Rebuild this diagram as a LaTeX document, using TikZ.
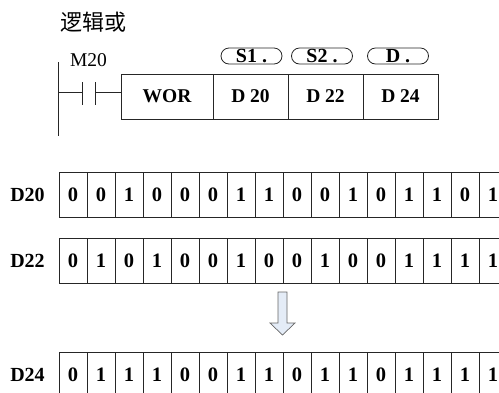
\documentclass[tikz,border=0pt]{standalone}
\usepackage{fontspec}
\setmainfont{Liberation Serif}
\newfontfamily\cjk{Noto Sans CJK SC}
\begin{document}
\begin{tikzpicture}[x=1pt,y=-1pt,
  lbl/.style={font=\fontsize{20}{20}\selectfont\bfseries, inner sep=0pt},
  cell/.style={draw=black!85, line width=0.8pt, minimum width=28pt, minimum height=45pt, inner sep=0pt, font=\fontsize{20.5}{20}\selectfont\bfseries},
  ibox/.style={draw=black!85, line width=0.8pt, minimum height=45pt, inner sep=0pt, font=\fontsize{19.5}{19}\selectfont\bfseries},
  oval/.style={draw=black!85, line width=0.8pt, rounded corners=8pt, minimum width=61pt, minimum height=16pt, inner sep=0pt, font=\fontsize{20}{19}\selectfont\bfseries},
  wire/.style={draw=black!85, line width=0.8pt}]
\useasboundingbox (0,0) rectangle (499,392);
\clip (0,0) rectangle (499,392);
% title
\node[inner sep=0pt, font=\cjk\fontsize{22}{22}\selectfont] (title) at (93.5,22) {逻辑或};
% ladder
\node[inner sep=0pt, font=\fontsize{19.5}{19}\selectfont] (m20) at (88.5,60) {M20};
\coordinate (railtop) at (58,62);
\coordinate (railbot) at (58,136);
\draw[wire] (railtop) -- (railbot);
\coordinate (c1t) at (82,82); \coordinate (c1b) at (82,105);
\coordinate (c2t) at (95,82); \coordinate (c2b) at (95,105);
\coordinate (railmid) at (58,92);
\coordinate (c1m) at (82,92);
\coordinate (c2m) at (95,92);
\draw[wire] (c1t) -- (c1b);
\draw[wire] (c2t) -- (c2b);
\draw[wire] (railmid) -- (c1m);
% instruction box
\node[ibox, minimum width=92pt] (wor) at (167,96.5) {WOR};
\node[ibox, minimum width=75pt] (s1) at (250.5,96.5) {D 20};
\node[ibox, minimum width=75pt] (s2) at (325.5,96.5) {D 22};
\node[ibox, minimum width=75pt] (dd) at (400.5,96.5) {D 24};
\draw[wire] (c2m) -- (wor.west |- c2m);
\node[oval] (o1) at (251.5,56) {S1 .};
\node[oval] (o2) at (322,56) {S2 .};
\node[oval] (o3) at (398,56) {D .};
% registers
\node[lbl] (l20) at (27.5,194.5) {D20};
\node[lbl] (l22) at (27.5,260.5) {D22};
\node[lbl] (l24) at (27.5,374.5) {D24};
\foreach \v [count=\i] in {0,0,1,0,0,0,1,1,0,0,1,0,1,1,0,1}
  \node[cell] (a\i) at (73+28*\i-28,194.5) {\v};
\foreach \v [count=\i] in {0,1,0,1,0,0,1,0,0,1,0,0,1,1,1,1}
  \node[cell] (b\i) at (73+28*\i-28,260.5) {\v};
\foreach \v [count=\i] in {0,1,1,1,0,0,1,1,0,1,1,0,1,1,1,1}
  \node[cell] (c\i) at (73+28*\i-28,374.5) {\v};
% hollow arrow
\draw[draw=black!60, fill={rgb,255:red,228;green,236;blue,247}, line width=0.7pt, line join=miter]
  (278,292) -- (287,292) -- (287,323) -- (295,323) -- (282.5,335) -- (270,323) -- (278,323) -- cycle;
\end{tikzpicture}
\end{document}
